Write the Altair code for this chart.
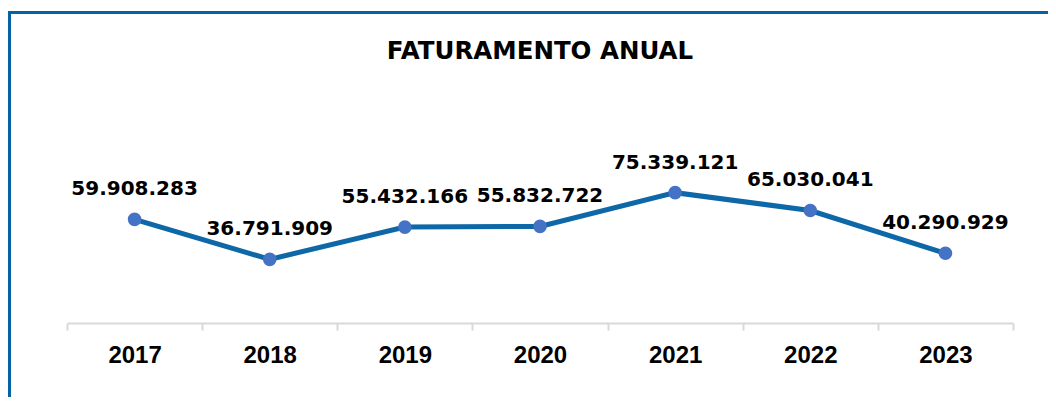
import altair as alt
import pandas as pd

years = ["2017", "2018", "2019", "2020", "2021", "2022", "2023"]
values = [59908283, 36791909, 55432166, 55832722, 75339121, 65030041, 40290929]
labels = [f"{v:,}".replace(",", ".") for v in values]
title_text = "FATURAMENTO ANUAL"

df = pd.DataFrame({"ano": years, "valor": values, "rotulo": labels})

W, H = 946, 173
L, T, R, B = 59, 142, 35, 74

x = alt.X(
    "ano:N",
    sort=years,
    bandPosition=0.5,
    scale=alt.Scale(type="band", paddingInner=0, paddingOuter=0),
    axis=alt.Axis(
        title=None,
        labelAngle=0,
        tickBand="extent",
        domainColor="#D9D9D9",
        domainWidth=2,
        tickColor="#D9D9D9",
        tickWidth=2,
        tickSize=7,
        labelFont="Liberation Sans",
        labelFontWeight="bold",
        labelFontSize=24,
        labelColor="#000000",
        labelPadding=13,
    ),
)
y = alt.Y("valor:Q", scale=alt.Scale(domain=[0, 100000000]), axis=None)

base = alt.Chart(df).encode(x=x, y=y)
line = base.mark_line(color="#0E67A6", strokeWidth=5)
pts = base.mark_circle(size=185, color="#4472C4", opacity=1)
txt = base.mark_text(
    dy=-24, baseline="alphabetic", font="DejaVu Sans", fontWeight="bold",
    fontSize=20, color="#000000"
).encode(text="rotulo:N")

one = pd.DataFrame({"t": [title_text]})
title = alt.Chart(one).mark_text(
    baseline="alphabetic", align="center", font="DejaVu Sans", fontWeight="bold",
    fontSize=24.5, color="#000000"
).encode(x=alt.value(W / 2), y=alt.value(-91), text="t:N")

left_border = alt.Chart(one).mark_rule(color="#0563A3", strokeWidth=3).encode(
    x=alt.value(-L + 1.5), y=alt.value(-T + 4), y2=alt.value(H + B)
)
top_border = alt.Chart(one).mark_rule(color="#0563A3", strokeWidth=3).encode(
    x=alt.value(-L), x2=alt.value(W + R), y=alt.value(-T + 4.5)
)

chart = alt.layer(left_border, top_border, title, line, pts, txt).properties(
    width=W,
    height=H,
    padding={"left": L, "top": T, "right": R, "bottom": B},
    autosize=alt.AutoSizeParams(type="none"),
).configure_view(stroke=None)

chart.save("out.html", embed_options={"renderer": "svg", "actions": False})
